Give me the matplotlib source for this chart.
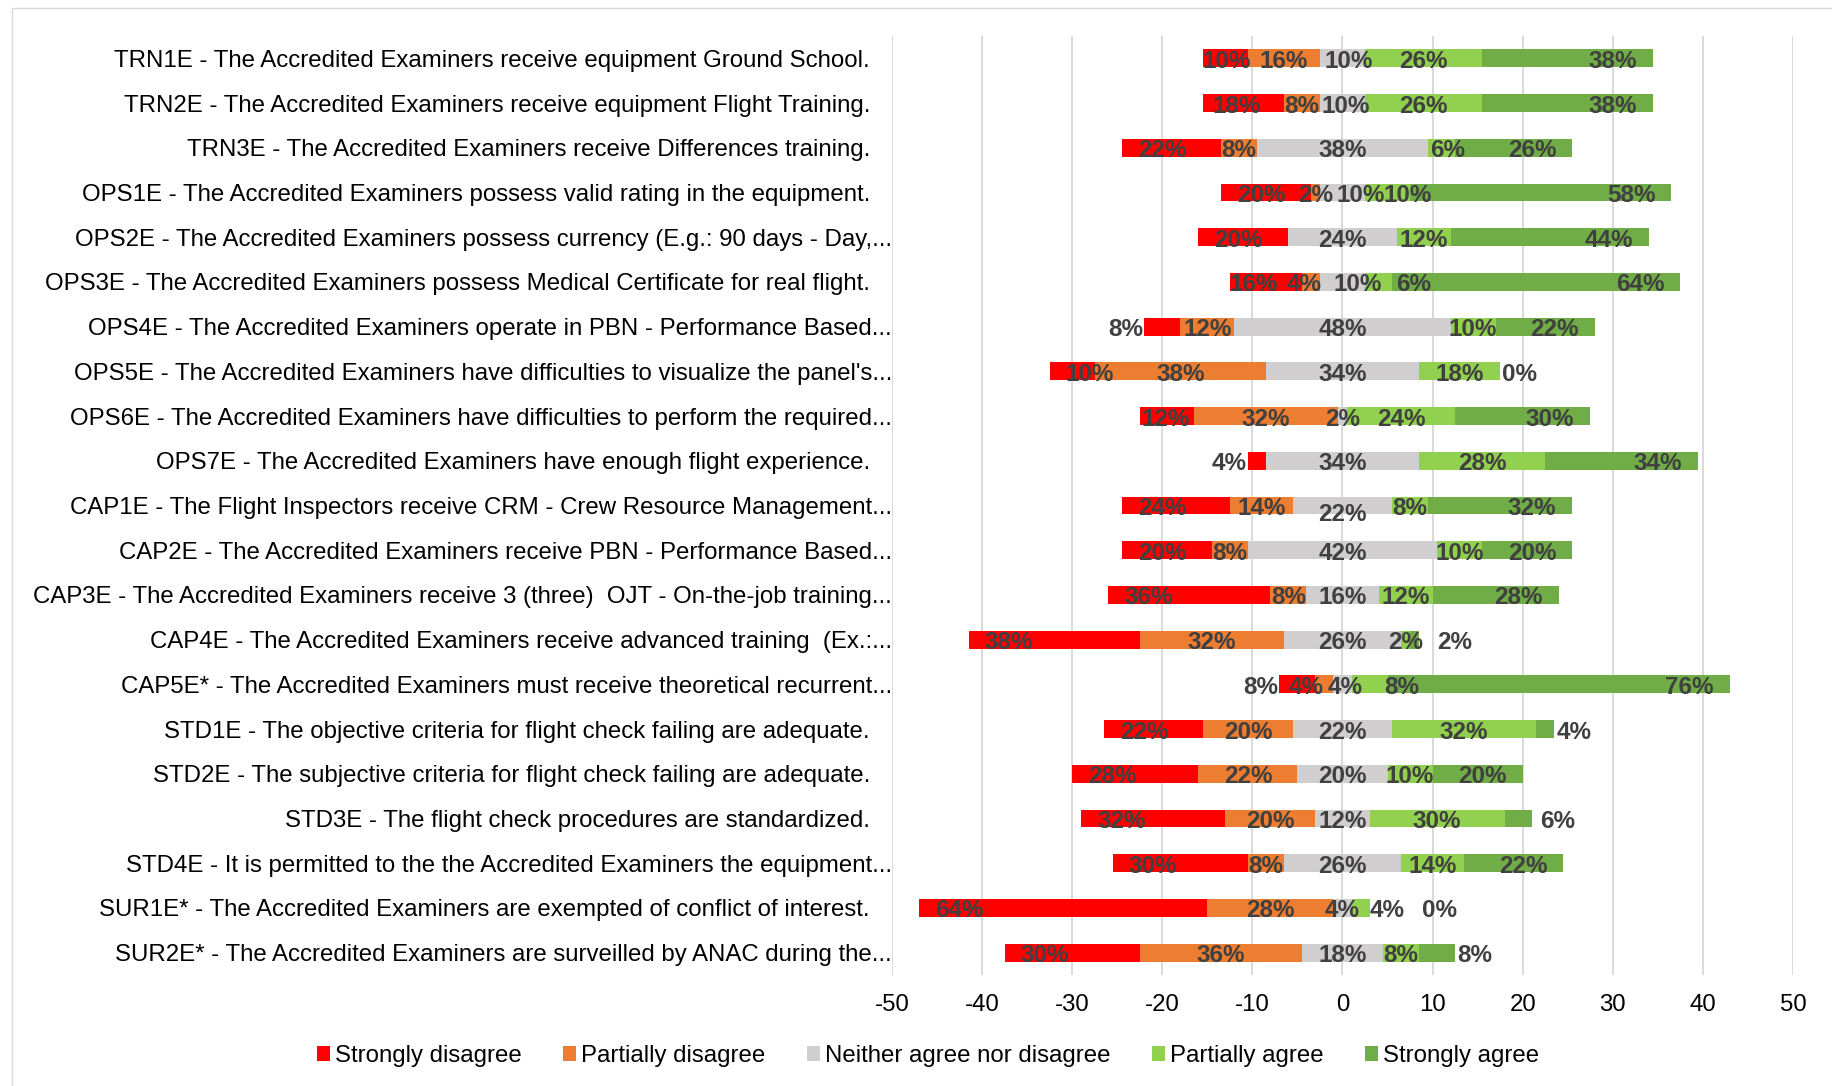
import matplotlib
matplotlib.use('Agg')
import matplotlib.pyplot as plt
from matplotlib.patches import Rectangle, Patch

plt.rcParams['font.family'] = ['Liberation Sans', 'DejaVu Sans']

# --- dati (percentuali, 50 rispondenti) ---
N_RESP = 50

QUESTIONS = [
    "TRN1E - The Accredited Examiners receive equipment Ground School.",
    "TRN2E - The Accredited Examiners receive equipment Flight Training.",
    "TRN3E - The Accredited Examiners receive Differences training.",
    "OPS1E - The Accredited Examiners possess valid rating in the equipment.",
    "OPS2E - The Accredited Examiners possess currency (E.g.: 90 days - Day,...",
    "OPS3E - The Accredited Examiners possess Medical Certificate for real flight.",
    "OPS4E - The Accredited Examiners operate in PBN - Performance Based...",
    "OPS5E - The Accredited Examiners have difficulties to visualize the panel's...",
    "OPS6E - The Accredited Examiners have difficulties to perform the required...",
    "OPS7E - The Accredited Examiners have enough flight experience.",
    "CAP1E - The Flight Inspectors receive CRM - Crew Resource Management...",
    "CAP2E - The Accredited Examiners receive PBN - Performance Based...",
    "CAP3E - The Accredited Examiners receive 3 (three)  OJT - On-the-job training...",
    "CAP4E - The Accredited Examiners receive advanced training  (Ex.:...",
    "CAP5E* - The Accredited Examiners must receive theoretical recurrent...",
    "STD1E - The objective criteria for flight check failing are adequate.",
    "STD2E - The subjective criteria for flight check failing are adequate.",
    "STD3E - The flight check procedures are standardized.",
    "STD4E - It is permitted to the the Accredited Examiners the equipment...",
    "SUR1E* - The Accredited Examiners are exempted of conflict of interest.",
    "SUR2E* - The Accredited Examiners are surveilled by ANAC during the...",
]

strongly_disagree = [10, 18, 22, 20, 20, 16, 8, 10, 12, 4, 24, 20, 36, 38, 8, 22, 28, 32, 30, 64, 30]
partially_disagree = [16, 8, 8, 2, 0, 4, 12, 38, 32, 0, 14, 8, 8, 32, 4, 20, 22, 20, 8, 28, 36]
neither = [10, 10, 38, 10, 24, 10, 48, 34, 2, 34, 22, 42, 16, 26, 4, 22, 20, 12, 26, 4, 18]
partially_agree = [26, 26, 6, 10, 12, 6, 10, 18, 24, 28, 8, 10, 12, 2, 8, 32, 10, 30, 14, 4, 8]
strongly_agree = [38, 38, 26, 58, 44, 64, 22, 0, 30, 34, 32, 20, 28, 2, 76, 4, 20, 6, 22, 0, 8]

LEGEND_LABELS = ['Strongly disagree', 'Partially disagree', 'Neither agree nor disagree',
                 'Partially agree', 'Strongly agree']
COLORS = ['#FF0000', '#ED7D31', '#D0CECE', '#92D050', '#70AD47']
X_TICKS = list(range(-50, 51, 10))

# spostamenti manuali delle etichette (pixel) e etichette nascoste
NUDGE = {
    (0, 'sd'): (-16, 0), (1, 'sd'): (-6, 0), (5, 'sd'): (-16, 0), (8, 'sd'): (-14, 0),
    (0, 'n'): (6, 0), (1, 'n'): (3, 0),
    (3, 'n'): (18, 0), (3, 'pa'): (20, 0), (5, 'n'): (15, 0), (5, 'pd'): (-7, 0),
    (5, 'pa'): (35, 0), (2, 'pa'): (6, 0), (10, 'n'): (0, -6),
    (14, 'pd'): (-18, 0), (14, 'n'): (3, 0), (14, 'pa'): (32, 0),
    (19, 'pa'): (27, 0), (19, 'sa'): (50, 0), (17, 'sa'): (6, 0), (13, 'sa'): (16, 0),
}
HIDDEN = {(4, 'pd'), (9, 'pd')}

PX = 0.72  # pixel -> punti a 100 dpi
FS = 17.3
FS_LAB = 17.5
LABEL_COLOR = '#404040'


def main():
    fig = plt.figure(figsize=(18.33, 10.86), dpi=100)
    ax = fig.add_axes([892 / 1833, 1 - 975 / 1086, 901 / 1833, 939 / 1086])

    n_rows = len(QUESTIONS)
    rows = list(range(n_rows))
    scale = N_RESP / 100.0
    h = 0.4

    for i in rows:
        sd = strongly_disagree[i] * scale
        pd_ = partially_disagree[i] * scale
        ne = neither[i] * scale
        pa = partially_agree[i] * scale
        sa = strongly_agree[i] * scale

        x_sd = -(sd + pd_ + ne / 2)
        x_pd = x_sd + sd
        x_ne = -ne / 2
        x_pa = ne / 2
        x_sa = x_pa + pa

        ax.barh(i, sd, left=x_sd, height=h, color=COLORS[0], zorder=2)
        ax.barh(i, pd_, left=x_pd, height=h, color=COLORS[1], zorder=2)
        ax.barh(i, ne, left=x_ne, height=h, color=COLORS[2], zorder=2)
        ax.barh(i, pa, left=x_pa, height=h, color=COLORS[3], zorder=2)
        ax.barh(i, sa, left=x_sa, height=h, color=COLORS[4], zorder=2)

        labels = []
        # strongly disagree: dentro alla base, fuori se piccolo
        if strongly_disagree[i] <= 8:
            labels.append(('sd', strongly_disagree[i], x_sd, 'right', -1))
        else:
            labels.append(('sd', strongly_disagree[i], x_sd, 'left', 16))
        labels.append(('pd', partially_disagree[i], x_pd + pd_ / 2, 'center', 0))
        labels.append(('n', neither[i], 0, 'center', 0))
        labels.append(('pa', partially_agree[i], x_pa + pa / 2, 'center', 0))
        # strongly agree: dentro alla fine, fuori se piccolo
        if strongly_agree[i] <= 8:
            labels.append(('sa', strongly_agree[i], x_sa + sa, 'left', 2))
        else:
            labels.append(('sa', strongly_agree[i], x_sa + sa, 'right', -16))

        for key, val, x, ha, off in labels:
            if (i, key) in HIDDEN:
                continue
            dx, dy = NUDGE.get((i, key), (0, 0))
            ax.annotate(f"{val}%", xy=(x, i), xytext=((off + dx) * PX, (dy - 3) * PX),
                        textcoords='offset points', ha=ha, va='center',
                        fontsize=FS_LAB, fontweight='bold', color=LABEL_COLOR, zorder=3)

    ax.set_xlim(-50, 50)
    ax.set_ylim(n_rows - 0.5, -0.5)
    ax.set_xticks(X_TICKS)
    ax.set_xticklabels([str(t) for t in X_TICKS])
    ax.set_yticks(rows)
    ax.set_yticklabels(QUESTIONS)
    ax.tick_params(axis='both', length=0, labelsize=FS, colors='black')
    ax.tick_params(axis='x', pad=14)
    for q, tick in zip(QUESTIONS, ax.yaxis.get_major_ticks()):
        tick.set_pad(0 if q.endswith('...') else 22 * PX)

    ax.xaxis.grid(True, color='#D9D9D9', linewidth=1.4, zorder=0)
    ax.set_axisbelow(True)
    for s in ax.spines.values():
        s.set_visible(False)

    handles = [Patch(facecolor=c, edgecolor='none') for c in COLORS]
    fig.legend(handles, LEGEND_LABELS, loc='center', bbox_to_anchor=(928 / 1833, 1 - 1056 / 1086),
               ncol=5, frameon=False, fontsize=FS, handlelength=0.55, handleheight=0.55,
               handletextpad=0.2, columnspacing=1.72)

    # bordo grafico (solo alto e sinistra visibili)
    fig.patches.append(Rectangle((12 / 1833, -0.1), 1.2, 1.1 - 8 / 1086, transform=fig.transFigure,
                                 fill=False, edgecolor='#D9D9D9', linewidth=1.0))

    fig.savefig('out.png', dpi=100)


if __name__ == "__main__":
    main()
